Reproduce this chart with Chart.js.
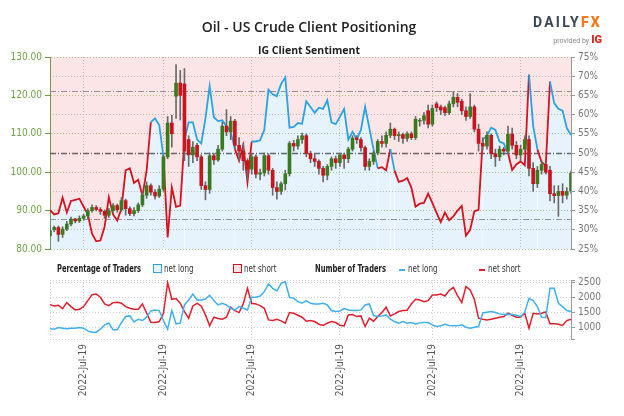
<!DOCTYPE html>
<html>
<head>
<meta charset="utf-8">
<script src="https://cdn.jsdelivr.net/npm/chart.js@4.4.0/dist/chart.umd.min.js"></script>
<style>
  body { margin: 0; width: 624px; height: 416px; background: #fff; position: relative; overflow: hidden; }
  canvas { position: absolute; left: 0; }
  #mainChart { top: 0; }
  #countChart { top: 258px; }
  .txt { position: absolute; white-space: nowrap; }
  .title { left: 0; width: 618px; top: 17px; text-align: center; font: 600 14px 'Open Sans', sans-serif; color: #222; }
  .sub { left: 0; width: 618px; top: 43px; text-align: center; font: 700 10.5px 'Open Sans', sans-serif; color: #222; }
  .logo { right: 22px; top: 14px; font: 700 14px 'Roboto', sans-serif; letter-spacing: 2.2px; color: #3b4757; }
  .logo b { color: #f47a20; }
  .prov { right: 22px; top: 33px; font: 400 7px 'Roboto', sans-serif; color: #888; }
  .prov b { font: 900 11px 'Roboto', sans-serif; color: #e2231a; margin-left: 2px; }
  .leg { top: 263px; font: 10px 'DejaVu Sans Condensed', sans-serif; color: #333; transform: scaleX(0.8); transform-origin: left center; }
  .leg.h { font-weight: 700; color: #222; transform: scaleX(0.75); }
  .box { position: absolute; top: 264px; width: 7px; height: 7px; border: 1.5px solid; }
  .dash { position: absolute; top: 269px; width: 6px; height: 2px; }
</style>
</head>
<body>
<canvas id="mainChart" width="624" height="258"></canvas>
<canvas id="countChart" width="624" height="158"></canvas>

<div class="txt title">Oil - US Crude Client Positioning</div>
<div class="txt sub">IG Client Sentiment</div>
<div class="txt logo">DAILY<b>FX</b></div>
<div class="txt prov">provided by<b>IG</b></div>

<div class="txt leg h" style="left:57px">Percentage of Traders</div>
<div class="box" style="left:153px;border-color:#2ba3e3;background:#e6f3fc"></div>
<div class="txt leg" style="left:164px">net long</div>
<div class="box" style="left:233px;border-color:#d8121f;background:#fce4e6"></div>
<div class="txt leg" style="left:244px">net short</div>
<div class="txt leg h" style="left:315px">Number of Traders</div>
<div class="dash" style="left:399px;background:#3fb0f0"></div>
<div class="txt leg" style="left:408px">net long</div>
<div class="dash" style="left:479px;background:#e11f2c"></div>
<div class="txt leg" style="left:488px">net short</div>

<script>
// x positions where the date label is printed (all say the same thing in the source)
let tickDays = [8, 27, 48, 69, 91, 112];
let tickText = '2022-Jul-19';
let pctTicks = [25, 30, 35, 40, 45, 50, 55, 60, 65, 70, 75];
let countTicks = [600, 1000, 1500, 2000, 2500, 2590];
let refLevels = [66.2, 50, 32.8];

// price candles
let opens = [83.5,85.0,85.6,83.8,85.2,86.5,87.8,87.3,88.0,88.6,
  90.0,90.8,90.3,89.8,88.8,90.0,91.3,90.2,92.6,90.5,
  89.2,90.0,91.5,94.0,96.5,94.8,93.8,95.6,104.0,112.8,
  119.8,123.2,123.0,108.5,104.5,107.0,104.0,96.5,95.5,104.3,
  103.2,106.0,112.0,110.5,113.3,107.0,105.5,103.0,100.8,104.0,
  99.5,99.8,104.3,100.5,96.0,95.0,97.0,99.6,107.5,106.8,
  108.5,109.5,104.9,103.5,102.8,101.0,99.2,101.5,103.5,102.5,
  104.5,103.5,106.0,108.9,108.5,106.4,101.5,102.8,105.0,108.0,
  107.5,109.6,111.2,109.5,109.8,108.8,110.0,109.0,113.3,113.5,
  116.0,112.5,117.8,117.0,116.8,115.5,117.8,119.5,118.5,116.0,
  114.5,117.0,111.2,107.5,106.8,109.6,104.8,104.0,106.0,105.5,
  109.9,107.0,104.5,106.0,108.5,101.0,97.0,100.5,102.0,100.5,
  94.4,93.9,95.0,94.0,95.2];
let highs = [86.0,86.0,86.0,85.8,87.2,88.3,88.0,88.6,89.0,90.5,
  91.5,91.3,90.8,90.2,90.6,91.8,91.7,93.4,93.0,91.0,
  90.8,92.0,95.0,97.5,97.0,95.5,96.5,104.5,114.5,114.8,
  128.0,126.5,127.0,109.5,108.0,107.5,104.5,97.5,105.0,105.0,
  107.0,113.0,116.3,114.5,113.8,109.0,107.5,103.5,104.8,104.5,
  100.8,105.0,104.8,101.0,97.5,97.5,100.5,108.0,108.3,109.5,
  110.2,110.0,105.5,104.8,103.2,101.5,102.0,104.0,104.2,105.0,
  105.0,106.5,109.5,109.5,109.0,106.8,103.5,105.5,108.5,109.5,
  110.5,112.8,111.5,110.5,110.2,110.5,110.5,114.5,114.0,115.5,
  117.5,117.5,118.3,117.5,117.2,118.5,121.0,120.5,119.0,117.0,
  120.5,117.5,112.5,109.0,110.5,110.0,106.0,106.8,106.5,112.0,
  111.5,108.0,107.0,109.5,109.5,102.5,101.5,103.0,102.5,101.5,
  96.5,96.5,97.0,96.0,100.3];
let lows = [83.0,84.5,82.0,83.0,84.8,86.0,86.8,86.9,87.5,87.9,
  89.6,89.9,89.0,88.0,88.2,89.5,89.6,89.8,88.8,88.7,
  88.6,89.5,91.0,93.2,94.0,93.0,93.4,95.0,103.5,106.5,
  114.0,113.6,103.0,101.5,102.5,103.0,95.5,92.8,94.5,102.0,
  102.8,105.5,109.5,108.5,106.0,103.0,100.5,98.0,99.5,98.5,
  98.0,99.0,99.5,94.0,93.0,94.2,95.4,99.0,105.5,106.0,
  107.5,104.0,102.5,101.5,99.5,97.5,98.0,100.5,101.0,101.5,
  101.0,102.5,105.5,107.5,105.5,100.5,100.5,102.0,104.5,106.5,
  106.5,109.0,108.5,108.0,107.5,108.0,108.5,108.5,112.0,112.5,
  111.5,112.0,115.8,115.0,114.8,115.0,117.0,117.0,115.0,113.5,
  114.0,110.5,105.5,105.8,106.0,103.5,101.5,103.0,104.5,104.8,
  106.0,103.5,103.0,105.5,99.0,95.0,96.0,99.5,99.5,92.5,
  92.0,88.5,92.0,93.0,94.5];
let closes = [84.8,85.6,83.8,85.2,86.5,87.8,87.3,88.0,88.6,90.0,
  90.8,90.3,89.8,88.8,90.0,91.3,90.2,92.6,90.5,89.2,
  90.0,91.5,94.0,96.5,94.8,93.8,95.6,104.0,112.8,110.0,
  123.2,120.0,105.5,104.5,106.5,104.0,96.5,95.5,104.3,103.2,
  106.0,112.0,110.5,113.3,107.0,105.5,103.0,100.8,104.0,99.5,
  99.8,104.3,100.5,96.0,95.0,97.0,99.6,107.5,106.8,108.5,
  109.5,104.9,103.5,102.8,101.0,99.2,101.5,103.5,102.5,104.5,
  103.5,106.0,108.9,108.5,106.4,101.5,102.8,105.0,108.0,107.5,
  109.6,111.2,109.5,109.8,108.8,110.0,109.0,113.8,113.5,114.7,
  112.5,116.6,116.8,116.2,115.5,117.8,119.5,118.2,116.0,114.5,
  117.0,111.2,107.5,106.8,109.6,104.8,104.0,106.0,105.5,109.9,
  107.0,104.5,106.0,108.5,101.0,97.0,100.5,102.0,100.0,94.4,
  93.9,95.0,94.0,95.0,99.8];

// % of traders net long
let pctLong = [35.1,34.0,34.3,38.4,34.5,37.5,37.8,38.1,36.0,34.0,
  29.0,27.0,27.2,30.8,38.5,34.0,32.4,35.5,45.5,46.0,
  42.2,43.0,38.8,45.5,58.0,59.0,57.3,49.0,28.0,41.0,
  36.0,36.3,53.5,58.0,58.0,53.5,52.5,59.0,67.4,59.3,
  58.3,58.5,57.0,55.5,51.0,48.0,52.0,42.4,53.0,53.0,
  53.3,56.0,66.5,65.3,64.8,68.0,69.7,56.6,56.8,57.8,
  57.6,63.5,62.0,60.5,61.8,61.5,63.8,58.0,57.5,59.4,
  61.5,53.5,55.5,53.6,56.0,62.0,56.5,51.0,46.0,46.3,
  45.5,51.0,45.4,42.5,42.8,43.5,41.0,36.0,36.8,37.0,
  39.4,37.0,34.4,32.0,34.5,32.5,33.5,35.0,36.2,28.5,
  30.0,34.8,35.2,53.5,54.5,56.6,56.0,53.0,52.5,50.0,
  45.6,47.0,47.8,46.8,70.4,57.0,51.0,47.6,46.8,68.6,
  63.0,61.5,61.0,56.5,54.7];
// stretches where the line is drawn blue
let blueRuns = [[24,26],[32,43],[48,77],[81,81],[103,108],[114,115],[119,124]];

// number of traders
let longCount = [943,931,987,965,943,965,965,987,965,875,
  831,831,931,1077,1133,909,909,1155,1357,1379,
  1178,1267,1223,1335,1547,1581,1559,1223,931,1559,
  1111,1133,1749,1917,2119,1917,1917,1951,2074,1895,
  1749,1805,1749,1637,1581,1693,1637,1581,2007,2007,
  2051,2197,2455,2309,2219,2477,2533,2007,1973,1861,
  1805,1895,1805,1783,1783,1805,1749,1559,1525,1547,
  1626,1581,1559,1559,1581,1749,1783,1391,1357,1379,
  1413,1267,1189,1133,1189,1133,1155,1111,1144,1155,
  1155,1077,1021,1043,1099,1055,1043,1043,1077,999,
  965,999,1021,1480,1503,1525,1491,1447,1424,1435,
  1424,1402,1357,1503,1973,1895,1693,1335,1323,2309,
  2309,1805,1693,1559,1525];
let shortCount = [1760,1715,1738,1626,1827,1693,1581,1603,1693,1895,
  2096,2119,2007,1783,1727,1827,1839,1805,1693,1637,
  1603,1603,1783,1469,1167,1155,1189,1469,2499,1939,
  1962,1805,1525,1301,1715,1805,1715,1413,1043,1335,
  1290,1267,1335,1671,1559,1491,1783,2309,1805,1783,
  1727,1637,1245,1223,1267,1211,1133,1491,1469,1402,
  1335,1200,1223,1189,1099,1055,1133,1189,1155,1066,
  1043,1413,1424,1357,1379,1021,1301,1200,1357,1491,
  1671,1379,1447,1525,1559,1570,1783,1939,1917,1861,
  1895,2085,2085,2119,2051,2231,2343,2063,1827,2365,
  2253,1939,1301,1267,1245,1267,1301,1335,1357,1469,
  1402,1335,1335,1469,965,1469,1447,1469,1514,1111,
  1111,1099,1055,1223,1267];

let days = closes.map((c, i) => String(i));

const BLUE = '#2ba3e3', RED = '#d8121f';
const UP = '#3a7a1f', DOWN = '#c8141e';

Chart.defaults.font.family = "'DejaVu Sans Condensed', 'Liberation Sans', sans-serif";
Chart.defaults.font.size = 10;
Chart.defaults.animation = false;
Chart.defaults.plugins.legend.display = false;
Chart.defaults.plugins.tooltip.enabled = false;

function isBlue(i) {
  return blueRuns.some(r => i >= r[0] && i <= r[1]);
}

let refLines = {
  id: 'refLines',
  beforeDatasetsDraw(chart) {
    let ctx = chart.ctx, a = chart.chartArea, s = chart.scales.pct;
    refLevels.forEach(v => {
      let y = Math.round(s.getPixelForValue(v)) + 0.5;
      ctx.save();
      ctx.strokeStyle = v === 50 ? '#666' : '#999';
      ctx.lineWidth = v === 50 ? 1.3 : 1;
      ctx.setLineDash([6, 2, 1, 2]);
      ctx.beginPath();
      ctx.moveTo(a.left, y);
      ctx.lineTo(a.right, y);
      ctx.stroke();
      ctx.restore();
    });
  }
};

function renderMainChart() {
  let ctx = document.getElementById('mainChart');
  new Chart(ctx, {
    type: 'bar',
    data: {
      labels: days,
      datasets: [
        {
          type: 'line', yAxisID: 'pct', data: pctLong,
          borderWidth: 0, borderColor: 'transparent', pointRadius: 0,
          fill: 'end', backgroundColor: 'rgba(230,40,60,0.12)', order: 6
        },
        {
          type: 'line', yAxisID: 'pct', data: pctLong,
          borderWidth: 1.8, borderColor: RED, pointRadius: 0,
          segment: { borderColor: c => isBlue(c.p0DataIndex) ? BLUE : RED },
          fill: 'start', backgroundColor: 'rgba(40,150,230,0.11)', order: 5
        },
        {
          yAxisID: 'price', data: lows.map((l, i) => [l, highs[i]]),
          backgroundColor: '#6a6a6a', barThickness: 1, grouped: false, order: 2
        },
        {
          yAxisID: 'price', data: opens.map((o, i) => [o, closes[i]]),
          backgroundColor: opens.map((o, i) => closes[i] >= o ? UP : DOWN),
          barThickness: 3, grouped: false, order: 1
        }
      ]
    },
    options: {
      responsive: false,
      layout: { padding: { top: 57, bottom: 7, left: 0, right: 0 } },
      scales: {
        x: {
          offset: false,
          grid: { offset: false, drawTicks: false, color: c => tickDays.includes(c.index) ? '#c6c6c6' : 'transparent' },
          border: { display: false, dash: [1, 2] },
          ticks: { display: false, autoSkip: false },
          afterFit: s => { s.height = 0; }
        },
        price: {
          position: 'left', min: 80, max: 130,
          ticks: { stepSize: 10, color: '#6ea544', padding: 3, callback: v => v.toFixed(2) },
          grid: { color: '#acd08c', tickColor: '#6ea544', tickLength: 5 },
          border: { color: '#6ea544', dash: [1, 2] },
          afterFit: s => { s.width = 50; }
        },
        pct: {
          position: 'right', min: 25, max: 75,
          afterBuildTicks: s => { s.ticks = pctTicks.map(v => ({ value: v })); },
          ticks: { color: '#777', padding: 3, autoSkip: false, callback: v => v + '%' },
          grid: {
            color: c => (c.tick && c.tick.value % 10 === 0 && c.tick.value !== 50) ? '#c4c4c4' : 'transparent',
            tickColor: '#999', tickLength: 4
          },
          border: { color: '#999', dash: [1, 2] },
          afterFit: s => { s.width = 53; }
        }
      }
    },
    plugins: [refLines]
  });
}

function renderCountChart() {
  let ctx = document.getElementById('countChart');
  new Chart(ctx, {
    type: 'line',
    data: {
      labels: days,
      datasets: [
        { data: longCount, borderColor: '#3fb0f0', borderWidth: 1.5, pointRadius: 0 },
        { data: shortCount, borderColor: '#e11f2c', borderWidth: 1.5, pointRadius: 0 }
      ]
    },
    options: {
      responsive: false,
      layout: { padding: { top: 22, bottom: 0, left: 50, right: 0 } },
      scales: {
        x: {
          offset: false,
          grid: { drawTicks: false, color: c => (c.index === 0 || tickDays.includes(c.index)) ? '#cfcfcf' : 'transparent' },
          border: { display: false, dash: [1, 2] },
          ticks: {
            autoSkip: false, maxRotation: 90, minRotation: 90, color: '#555', padding: 5,
            callback: (v, i) => tickDays.includes(i) ? tickText : ''
          },
          afterFit: s => { s.height = 77; }
        },
        y: {
          position: 'right', min: 600, max: 2590,
          afterBuildTicks: s => { s.ticks = countTicks.map(v => ({ value: v })); },
          ticks: { color: '#777', padding: 3, autoSkip: false, callback: v => (v >= 1000 && v <= 2500) ? v : '' },
          grid: { color: '#cfcfcf', tickColor: '#999', tickLength: 4 },
          border: { color: '#999', dash: [1, 2] },
          afterFit: s => { s.width = 53; }
        }
      }
    }
  });
}

renderMainChart();
renderCountChart();
</script>
</body>
</html>
